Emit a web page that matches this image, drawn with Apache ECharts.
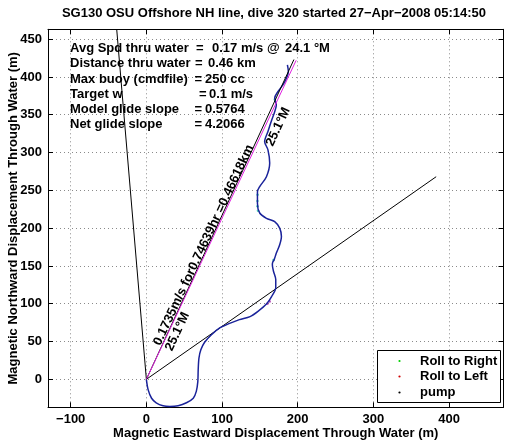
<!DOCTYPE html>
<html><head><meta charset="utf-8">
<script src="https://cdn.jsdelivr.net/npm/echarts@6/dist/echarts.min.js"></script>
<style>html,body{margin:0;padding:0;background:#fff}#c{width:513px;height:442px}</style>
</head><body><div id="c"></div>
<script>
// ---- data ----
const titleText = 'SG130 OSU Offshore NH line, dive 320 started 27\u2212Apr\u22122008 05:14:50';
const xTicks = [-100, 0, 100, 200, 300, 400];
const yTicks = [0, 50, 100, 150, 200, 250, 300, 350, 400, 450];
const trackX = [0, 2.4, 6.9, 13, 22, 31, 42, 53, 62, 66, 68, 68.5, 69.5, 72, 77, 86, 97, 110, 123, 137, 147.5, 159, 165.5, 171, 171, 168, 166.5, 167, 168.8, 171.8, 176.2, 178.5, 176.2, 169.6, 158.7, 149.8, 146.8, 146.8, 149.8, 158.7, 163, 160.7, 156.3, 160.7, 165, 169.6, 171.8, 169.6, 174, 180.5, 185, 187.7, 186.4];
const trackY = [0, -14, -25, -31, -35, -36, -35, -31, -25, -16, -3, 12.5, 28, 39, 49, 59, 68, 74, 79, 83, 90, 100, 109.5, 121, 132, 143, 151.5, 155, 158, 167, 178, 189, 200, 208.7, 213, 220, 233, 248, 255, 268, 286, 303.6, 314.5, 327.8, 341, 354, 363, 372, 380.7, 389.5, 398, 407, 416];
const glideX = [0, 198];
const glideY = [0, 422];
const avgX = [0, 195];
const avgY = [0, 423];
const leftLineX = [0, -39.2];
const leftLineY = [0, 463];
const rightLineX = [0, 383];
const rightLineY = [0, 268];
const rollRightX = [147, 146.8, 146.8, 147.5, 169.8, 168];
const rollRightY = [244, 236, 229, 223, 370, 158];
const rollLeftX = [160, 163];
const rollLeftY = [100, 103];
const infoLines = [
  ['Avg Spd thru water', '=', '0.17 m/s @', '24.1 \u00b0M'],
  ['Distance thru water', '=', '0.46 km'],
  ['Max buoy (cmdfile)', '=', '250 cc'],
  ['Target w', '=', '0.1 m/s'],
  ['Model glide slope', '=', '0.5764'],
  ['Net glide slope', '=', '4.2066']
];
const glideLabel = '0.1735m/s for0.74639hr =0.46618km';
const headingLabel = '25.1\u00b0M';
const legendNames = ['Roll to Right', 'Roll to Left', 'pump'];
const xName = 'Magnetic Eastward Displacement Through Water (m)';
const yName = 'Magnetic Northward Displacement Through Water (m)';

// ---- chart ----
const FF = '"Liberation Sans", Arial, Helvetica, sans-serif';
const zip = (a, b) => a.map((v, i) => [v, b[i]]);
const chart = echarts.init(document.getElementById('c'), null, {renderer: 'canvas'});
const XMIN = -130, XMAX = 472, YMIN = -37, YMAX = 463;
const lbl = {color: '#000', fontWeight: 'bold', fontSize: 13, fontFamily: FF};
function mkAxis(pos, min, max, ticks, main, name, gap) {
  return {
    type: 'value', position: pos, min: min, max: max,
    axisLine: {show: true, onZero: false, lineStyle: {color: '#000', width: 1}},
    axisTick: {show: true, inside: true, length: 5, customValues: ticks, lineStyle: {color: '#000'}},
    axisLabel: main ? Object.assign({show: true, customValues: ticks, margin: 6,
      formatter: v => String(v).replace('-', '\u2212')}, lbl) : {show: false},
    splitLine: main ? {show: true, lineStyle: {color: '#8a8a8a', type: [1, 3], width: 1}} : {show: false},
    name: main ? name : '', nameLocation: 'middle', nameGap: gap, nameMoveOverlap: false,
    nameTextStyle: lbl
  };
}
const lineS = (x, y, color, w) => ({type: 'line', data: zip(x, y), showSymbol: false, symbol: 'none',
  lineStyle: {color: color, width: w}, silent: true, animation: false, clip: true});
const option = {
  animation: false,
  grid: {left: 48, right: 9.5, top: 29.3, bottom: 34.7, outerBoundsMode: 'none', containLabel: false},
  xAxis: [mkAxis('bottom', XMIN, XMAX, xTicks, true, xName, 20), mkAxis('top', XMIN, XMAX, xTicks, false)],
  yAxis: [mkAxis('left', YMIN, YMAX, yTicks, true, yName, 28), mkAxis('right', YMIN, YMAX, yTicks, false)],
  series: [
    lineS(leftLineX, leftLineY, '#000', 1),
    lineS(rightLineX, rightLineY, '#000', 1),
    Object.assign(lineS(trackX, trackY, '#1a239a', 1.5), {smooth: 0.3}),
    lineS(avgX, avgY, '#000', 1),
    lineS(glideX, glideY, '#e020e0', 1),
    {type: 'scatter', data: zip(rollRightX, rollRightY), symbolSize: 2.5, itemStyle: {color: '#20c8a0'}, silent: true},
    {type: 'scatter', data: zip(rollLeftX, rollLeftY), symbolSize: 2.5, itemStyle: {color: '#b030b0'}, silent: true}
  ]
};
chart.setOption(option);

// ---- annotations ----
const P = (x, y) => chart.convertToPixel({xAxisIndex: 0, yAxisIndex: 0}, [x, y]);
const p0 = P(glideX[0], glideY[0]), p1 = P(glideX[1], glideY[1]);
const ang = Math.atan2(p0[1] - p1[1], p1[0] - p0[0]);
const perp = [Math.sin(ang), Math.cos(ang)];
const font = 'bold 13px ' + FF;
const g = [];
g.push({type: 'text', x: 274, y: 13, style: {text: titleText, font: font, fill: '#000', textAlign: 'center', textVerticalAlign: 'middle'}});
const infoY = [48, 63.5, 79, 94, 109, 124];
const infoX = [[70, 196, 212, 285], [70, 195, 208], [70, 194.5, 205], [70, 199, 209], [70, 194.5, 205], [70, 194.5, 205]];
infoLines.forEach((ln, i) => ln.forEach((s, j) => g.push({type: 'text', x: infoX[i][j], y: infoY[i], z: 100,
  style: {text: s, font: font, fill: '#000', textAlign: 'left', textVerticalAlign: 'middle'}})));
const la = P(glideX[1] * 42 / glideY[1], 42);
g.push({type: 'text', x: la[0] + 1.5, y: la[1], rotation: ang, z: 100,
  style: {text: glideLabel + '\n' + headingLabel, font: font, lineHeight: 13, fill: '#000', textAlign: 'left', textVerticalAlign: 'middle'}});
const lb = P(glideX[1] * 316 / glideY[1], 316);
g.push({type: 'text', x: lb[0] + perp[0] * 12, y: lb[1] + perp[1] * 12, rotation: ang, z: 100,
  style: {text: headingLabel, font: font, fill: '#000', textAlign: 'left', textVerticalAlign: 'middle'}});
// legend box
g.push({type: 'rect', shape: {x: 377.5, y: 350.5, width: 123, height: 52}, z: 100, style: {fill: '#fff', stroke: '#000', lineWidth: 1}});
const legY = [361, 376.5, 392.5], legC = ['#00d000', '#d00000', '#000'];
legendNames.forEach((n, i) => {
  g.push({type: 'circle', shape: {cx: 399.5, cy: legY[i], r: 1.1}, z: 101, style: {fill: legC[i]}});
  g.push({type: 'text', x: 420, y: legY[i], z: 101, style: {text: n, font: font, fill: '#000', textAlign: 'left', textVerticalAlign: 'middle'}});
});
chart.setOption({graphic: g});
</script></body></html>
